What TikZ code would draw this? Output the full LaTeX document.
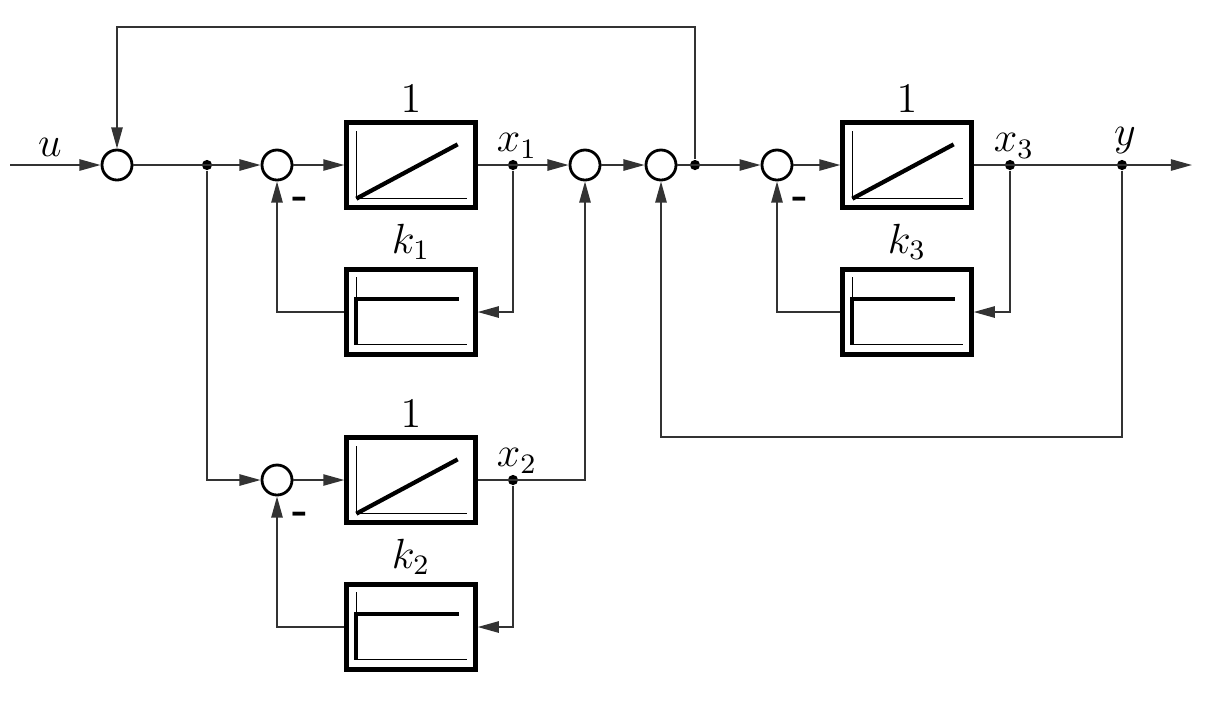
\documentclass[tikz,border=0pt]{standalone}
\usetikzlibrary{arrows.meta}

% inner sketches of the blocks
\newcommand{\drawramp}[1]{%
  \draw[line width=0.4pt] ([shift={(12,11)}]#1.north west) -- ([shift={(12,-11)}]#1.south west) -- ([shift={(-11,-11)}]#1.south east);
  \draw[line width=1.2pt] ([shift={(12,-11)}]#1.south west) -- ([shift={(-20,24)}]#1.north east);}
\newcommand{\drawgain}[1]{%
  \draw[line width=0.4pt] ([shift={(12,10)}]#1.north west) -- ([shift={(12,-12)}]#1.south west) -- ([shift={(-11,-12)}]#1.south east);
  \draw[line width=1.2pt] ([shift={(-19,32)}]#1.north east) -- ([shift={(12,32)}]#1.north west) -- ([shift={(12,-12)}]#1.south west);}

\begin{document}
\begin{tikzpicture}[x=0.01cm,y=-0.01cm,>={Triangle[length=6pt,width=3.2pt]},font=\large,
  line/.style={draw=black!80,line width=0.5pt},
  sum node/.style={circle,draw,line width=0.8pt,minimum size=0.3cm,inner sep=0pt},
  block node/.style={rectangle,draw,line width=1.2pt,minimum width=1.29cm,minimum height=0.85cm,inner sep=0pt},
  dot/.style={circle,fill,inner sep=0pt,minimum size=2.9pt},
  tag/.style={inner sep=2pt}]

  \useasboundingbox (0,0) rectangle (1213,708);

  % summing points
  \node[sum node] (s0) at (117,165) {};
  \node[sum node] (s1) at (277,165) {};
  \node[sum node] (s2) at (585,165) {};
  \node[sum node] (s3) at (661,165) {};
  \node[sum node] (s4) at (777,165) {};
  \node[sum node] (s5) at (277,480) {};

  % blocks
  \node[block node, label={[tag]above:$1$}] (b1) at (411,165) {};
  \node[block node, label={[tag]above:$k_1$}] (k1) at (411,312) {};
  \node[block node, label={[tag]above:$1$}] (b2) at (411,480) {};
  \node[block node, label={[tag]above:$k_2$}] (k2) at (411,627) {};
  \node[block node, label={[tag]above:$1$}] (b3) at (907,165) {};
  \node[block node, label={[tag]above:$k_3$}] (k3) at (907,312) {};
  \drawramp{b1} \drawramp{b2} \drawramp{b3}
  \drawgain{k1} \drawgain{k2} \drawgain{k3}

  % branch points
  \node[dot] (d0) at (207,165) {};
  \node[dot] (x1) at (513,165) {};
  \node[dot] (x2) at (513,480) {};
  \node[dot] (d3) at (695,165) {};
  \node[dot] (x3) at (1010,165) {};
  \node[dot] (yd) at (1122,165) {};
  \coordinate (in) at (10,165);
  \coordinate (out) at (1192,165);
  \coordinate (c0) at (695,27);
  \coordinate (c1) at (1122,437);

  % texts
  \node (lu) at (50,147) {$u$};
  \node (lx1) at (517,146) {$x_1$};
  \node (lx2) at (517,461) {$x_2$};
  \node (lx3) at (1014,146) {$x_3$};
  \node (ly) at (1125,141) {$y$};
  \node[font=\large\bfseries] (m1) at (300,203) {-};
  \node[font=\large\bfseries] (m5) at (300,518) {-};
  \node[font=\large\bfseries] (m4) at (800,203) {-};

  % signal lines
  \draw[line,->] (in) -- (s0);
  \draw[line,->] (s0) -- (s1);
  \draw[line,->] (s1) -- (b1);
  \draw[line,->] (b1) -- (s2);
  \draw[line,->] (s2) -- (s3);
  \draw[line,->] (s3) -- (s4);
  \draw[line,->] (s4) -- (b3);
  \draw[line,->] (b3) -- (out);
  \draw[line,->] (x1) |- (k1);
  \draw[line,->] (k1) -| (s1);
  \draw[line,->] (d0) |- (s5);
  \draw[line,->] (s5) -- (b2);
  \draw[line,->] (b2) -| (s2);
  \draw[line,->] (x2) |- (k2);
  \draw[line,->] (k2) -| (s5);
  \draw[line,->] (d3) -- (c0) -| (s0);
  \draw[line,->] (x3) |- (k3);
  \draw[line,->] (k3) -| (s4);
  \draw[line,->] (yd) -- (c1) -| (s3);
\end{tikzpicture}
\end{document}
